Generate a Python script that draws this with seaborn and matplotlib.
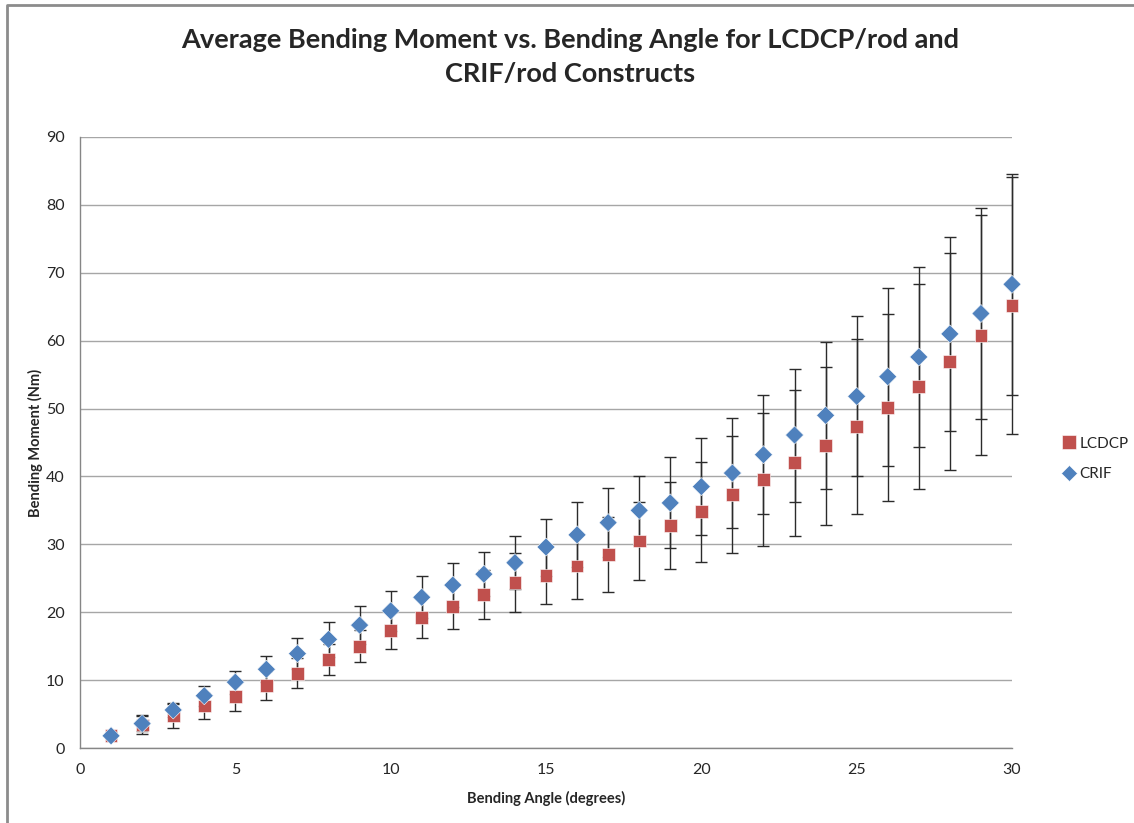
import numpy as np
import pandas as pd
import seaborn as sns
import matplotlib.pyplot as plt
from matplotlib.lines import Line2D

# Bending angle (degrees)
angle = list(range(1, 31))

# Average bending moment (Nm) and error (+/-) for each construct
lcdcp_mean = [1.9, 3.4, 4.7, 6.2, 7.6, 9.2, 11.0, 13.0, 15.0, 17.3,
              19.2, 20.8, 22.6, 24.4, 25.4, 26.8, 28.5, 30.5, 32.8, 34.8,
              37.3, 39.6, 42.0, 44.5, 47.3, 50.2, 53.3, 56.9, 60.8, 65.2]
lcdcp_err = [0.4, 1.4, 1.8, 1.9, 2.1, 2.2, 2.2, 2.3, 2.4, 2.7,
             3.0, 3.2, 3.6, 4.3, 4.2, 4.9, 5.5, 5.8, 6.4, 7.4,
             8.6, 9.8, 10.8, 11.6, 12.9, 13.8, 15.1, 16.0, 17.7, 18.9]
crif_mean = [1.8, 3.6, 5.6, 7.7, 9.7, 11.6, 13.9, 16.0, 18.1, 20.2,
             22.2, 24.0, 25.6, 27.3, 29.6, 31.4, 33.2, 35.0, 36.1, 38.5,
             40.5, 43.2, 46.1, 49.0, 51.8, 54.7, 57.6, 61.0, 64.0, 68.3]
crif_err = [0.3, 1.1, 1.0, 1.5, 1.7, 1.9, 2.3, 2.6, 2.8, 2.9,
            3.1, 3.2, 3.2, 3.9, 4.2, 4.8, 5.1, 5.1, 6.7, 7.1,
            8.1, 8.8, 9.8, 10.8, 11.8, 13.1, 13.2, 14.3, 15.5, 16.3]

series = ["LCDCP", "CRIF"]
colors = {"LCDCP": "#C0504D", "CRIF": "#4F81BD"}
markers = {"LCDCP": "s", "CRIF": "D"}

df = pd.DataFrame({
    "angle": angle * 2,
    "moment": lcdcp_mean + crif_mean,
    "err": lcdcp_err + crif_err,
    "construct": ["LCDCP"] * len(angle) + ["CRIF"] * len(angle),
})

sns.set_style("white")
plt.rcParams["font.family"] = ["Lato", "DejaVu Sans"]

fig = plt.figure(figsize=(11.34, 8.23), dpi=100)
ax = fig.add_axes([80 / 1134, 1 - 748 / 823, (1012 - 80) / 1134, (748 - 137) / 823])

# error bars (behind markers)
for name in series:
    sub = df[df["construct"] == name]
    eb = ax.errorbar(sub["angle"], sub["moment"], yerr=sub["err"], fmt="none",
                     ecolor="#2b2b2b", elinewidth=1.0, capsize=4, capthick=1.0, zorder=2)
    for art in eb.get_children():
        art.set_clip_on(False)

sns.scatterplot(data=df, x="angle", y="moment", hue="construct", style="construct",
                hue_order=series, style_order=series, palette=colors, markers=markers,
                s=85, edgecolor="#ffffff", linewidth=0.4, ax=ax, zorder=3, legend=False,
                clip_on=False)

ax.set_xlim(0, 30)
ax.set_ylim(0, 90)
ax.set_xticks(range(0, 31, 5))
ax.set_yticks(range(0, 91, 10))
ax.yaxis.grid(True, color="#a6a6a6", linewidth=1.0)
ax.xaxis.grid(False)
ax.set_axisbelow(True)
for side in ["top", "right"]:
    ax.spines[side].set_visible(False)
for side in ["left", "bottom"]:
    ax.spines[side].set_color("#868686")
    ax.spines[side].set_linewidth(1.0)
ax.tick_params(axis="both", which="both", direction="out", length=6, width=1.0,
               color="#868686", labelsize=11.5, labelcolor="#262626")
ax.tick_params(axis="y", pad=5)
ax.tick_params(axis="x", pad=5)

ax.set_xlabel("Bending Angle (degrees)", fontsize=10.5, fontweight="bold", labelpad=10)
ax.set_ylabel("Bending Moment (Nm)", fontsize=10.5, fontweight="bold", labelpad=2)

fig.text(0.503, 0.931, "Average Bending Moment vs. Bending Angle for LCDCP/rod and\nCRIF/rod Constructs",
         ha="center", va="center", fontsize=19.5, fontweight="bold", linespacing=1.5)

handles = [Line2D([], [], linestyle="none", marker=markers[n], color=colors[n],
                  markeredgecolor="#ffffff", markeredgewidth=0.4,
                  markersize=10 if n == "LCDCP" else 8.5, label=n) for n in series]
fig.legend(handles=handles, loc="center left", bbox_to_anchor=(1054 / 1134, 1 - 459 / 823),
           frameon=False, fontsize=11, handletextpad=0.15, labelspacing=1.1,
           handlelength=1.0, borderpad=0)

# chart-area border (top and left edges visible)
fig.add_artist(Line2D([7 / 1134, 7 / 1134, 1.0], [0.0, 1 - 4.5 / 823, 1 - 4.5 / 823],
                      transform=fig.transFigure, color="#8c8c8c", linewidth=2.0))

fig.savefig("out.png", dpi=100)
